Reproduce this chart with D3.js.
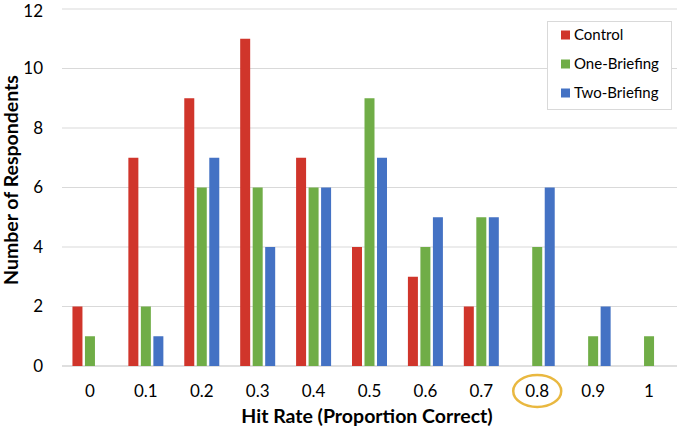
<!DOCTYPE html>
<html><head><meta charset="utf-8">
<script src="https://cdn.jsdelivr.net/npm/d3@7/dist/d3.min.js"></script>
<style>body{margin:0;background:#fff;} text{font-family:Lato,"Open Sans",sans-serif;}</style>
</head><body><svg id="c" width="677" height="430"></svg>
<script>
const categories = ["0","0.1","0.2","0.3","0.4","0.5","0.6","0.7","0.8","0.9","1"];
const seriesNames = ["Control","One-Briefing","Two-Briefing"];
const control = [2,7,9,11,7,4,3,2,0,0,0];
const oneBriefing = [1,2,6,6,6,9,4,5,4,1,1];
const twoBriefing = [0,1,7,4,6,7,5,5,6,2,0];
const yTicks = [0,2,4,6,8,10,12];
const colors = ["#D0352B","#70AD47","#4472C4"];
const highlighted = "0.8";

(function(){
const svg = d3.select("#c");
const mLeft = 62, mRight = 677, mTop = 9, mBottom = 366;
const x = d3.scaleBand().domain(categories).range([mLeft, mRight]);
const y = d3.scaleLinear().domain([0,12]).range([mBottom, mTop]);
const series = [control, oneBriefing, twoBriefing];
const xs = d3.scaleBand().domain(seriesNames).range([-17.5, 17.5]).paddingInner(0.2);

svg.append("g").selectAll("line").data(yTicks).join("line")
  .attr("x1", mLeft).attr("x2", mRight)
  .attr("y1", d => y(d)).attr("y2", d => y(d))
  .attr("stroke", d => d === 0 ? "#BFBFBF" : "#D9D9D9").attr("stroke-width", 1);

svg.append("g").selectAll("text").data(yTicks).join("text")
  .attr("x", 43).attr("y", d => Math.max(y(d), 11)).attr("dy", "0.35em")
  .attr("text-anchor", "end").attr("font-size", 17).attr("fill", "#000").text(d => d);

series.forEach((vals, si) => {
  svg.append("g").selectAll("rect").data(vals.map((v,i)=>({v, c: categories[i]})).filter(d => d.v > 0)).join("rect")
    .attr("x", d => x(d.c) + x.bandwidth()/2 + xs(seriesNames[si]))
    .attr("width", xs.bandwidth())
    .attr("y", d => y(d.v))
    .attr("height", d => y(0) - y(d.v))
    .attr("fill", colors[si]);
});

svg.append("g").selectAll("text").data(categories).join("text")
  .attr("x", d => x(d) + x.bandwidth()/2).attr("y", 397)
  .attr("text-anchor", "middle").attr("font-size", 17).attr("fill", "#000").text(d => d);

svg.append("ellipse")
  .attr("cx", x(highlighted) + x.bandwidth()/2).attr("cy", 391)
  .attr("rx", 24).attr("ry", 16)
  .attr("fill", "none").attr("stroke", "#E9B840").attr("stroke-width", 2.5);

svg.append("text").attr("x", 367).attr("y", 423)
  .attr("text-anchor", "middle").attr("font-size", 19.5).attr("font-weight", "bold")
  .text("Hit Rate (Proportion Correct)");
svg.append("text").attr("transform", "translate(11,180) rotate(-90)").attr("dy", "0.35em")
  .attr("text-anchor", "middle").attr("font-size", 19.5).attr("font-weight", "bold")
  .text("Number of Respondents");

const lg = svg.append("g");
lg.append("rect").attr("x", 547.5).attr("y", 21.5).attr("width", 124).attr("height", 88)
  .attr("fill", "#fff").attr("stroke", "#D9D9D9");
seriesNames.forEach((n, i) => {
  const cy = 35 + i * 29;
  lg.append("rect").attr("x", 561).attr("y", cy - 4.5).attr("width", 9).attr("height", 9).attr("fill", colors[i]);
  lg.append("text").attr("x", 574).attr("y", cy).attr("dy", "0.35em").attr("font-size", 15).text(n);
});
})();
</script></body></html>
